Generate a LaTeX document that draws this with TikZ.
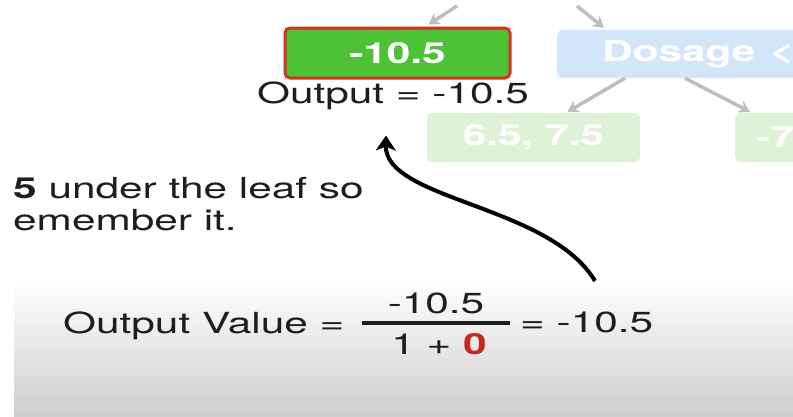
\documentclass[tikz,border=0pt]{standalone}
\usepackage{fontspec}
\setmainfont{TeX Gyre Heros}
\usepackage{graphicx}
\usetikzlibrary{arrows.meta}
\definecolor{leafgreen}{RGB}{78,194,54}
\definecolor{leafred}{RGB}{212,50,30}
\definecolor{fadeblue}{RGB}{212,230,250}
\definecolor{fadegreen}{RGB}{221,242,214}
\definecolor{fadegray}{RGB}{190,190,190}
\definecolor{inkblack}{RGB}{30,30,30}
\definecolor{zerored}{RGB}{196,40,30}
\definecolor{bandgray}{RGB}{206,206,206}
\newcommand{\wide}[1]{\scalebox{1.46}[1]{#1}}

\begin{document}
\begin{tikzpicture}[x=1pt,y=-1pt,
	txt/.style={inner sep=0pt,text=inkblack,font=\fontsize{29}{32}\selectfont},
	box/.style={rounded corners=5pt,inner sep=0pt,text=white,font=\fontsize{29}{32}\selectfont\bfseries},
	fadearrow/.style={draw=fadegray,line width=3.5pt,-{Stealth[length=11pt,width=13pt]}}]
	\useasboundingbox (0,0) rectangle (793,416);
	\clip (0,0) rectangle (793,416);
	\shade[top color=white,bottom color=bandgray] (14,280) rectangle (793,416);
	\node[box,fill=leafgreen,draw=leafred,line width=3pt,minimum width=225pt,minimum height=50pt] (leaf) at (397.5,53) {\wide{-10.5}};
	\node[txt,anchor=base] (leafout) at (393,103) {\wide{Output = -10.5}};
	\node[box,fill=fadeblue,anchor=west,minimum width=330pt,minimum height=48pt,text width=240pt,align=left,inner xsep=45pt] (dose) at (557,54) {\wide{Dosage <}};
	\node[box,fill=fadegreen,minimum width=213pt,minimum height=49pt] (leafa) at (533.5,137.5) {\wide{6.5, 7.5}};
	\node[box,fill=fadegreen,anchor=west,minimum width=150pt,minimum height=49pt,text width=108pt,align=left,inner xsep=21pt] (leafb) at (735,137.5) {\wide{-7}};
	\coordinate (upa) at (457,6);
	\coordinate (upb) at (577,6);
	\draw[fadearrow] (upa) -- ([xshift=31pt,yshift=2pt]leaf.north);
	\draw[fadearrow] (upb) -- ([xshift=47pt,yshift=2pt]dose.north west);
	\draw[fadearrow] ([xshift=68pt]dose.south west) -- ([xshift=34pt,yshift=1pt]leafa.north);
	\draw[fadearrow] ([xshift=128pt]dose.south west) -- ([xshift=15pt,yshift=1pt]leafb.north west);
	\node[txt,anchor=base west] (note1) at (13,198) {\wide{\textbf{5} under the leaf so}};
	\node[txt,anchor=base west] (note2) at (13,230) {\wide{emember it.}};
	\node[txt,anchor=base west] (lhs) at (63,333) {\wide{Output Value =}};
	\coordinate (barl) at (362,323);
	\coordinate (barr) at (510,323);
	\draw[line width=4.5pt,inkblack] (barl) -- (barr);
	\node[txt,anchor=base] (num) at (436,313) {\wide{-10.5}};
	\node[txt,anchor=base] (den) at (439,354) {\wide{1 + \textcolor{zerored}{\textbf{0}}}};
	\node[txt,anchor=base west] (rhs) at (520,332) {\wide{= -10.5}};
	\coordinate (tail) at (595,281);
	\draw[line width=4pt,-{Stealth[length=15pt,width=20pt,inset=4pt]}] (tail) .. controls (550,205) and (385,200) .. ([xshift=-7pt,yshift=-26pt]leafout.south);
\end{tikzpicture}
\end{document}
